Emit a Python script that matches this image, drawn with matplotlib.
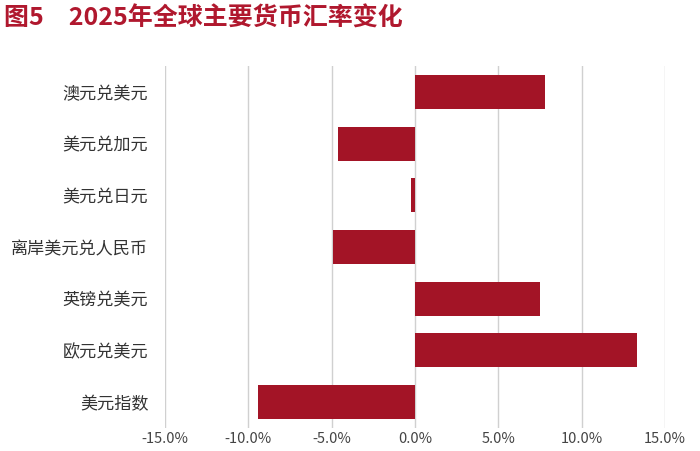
import matplotlib
matplotlib.use("Agg")
import matplotlib.pyplot as plt
from matplotlib.ticker import FuncFormatter

plt.rcParams['font.family'] = ['Noto Sans CJK SC', 'DejaVu Sans']

categories = ["澳元兑美元", "美元兑加元", "美元兑日元", "离岸美元兑人民币", "英镑兑美元", "欧元兑美元", "美元指数"]
values = [7.8, -4.6, -0.25, -4.9, 7.5, 13.3, -9.4]
xticks = [-15, -10, -5, 0, 5, 10, 15]

fig = plt.figure(figsize=(7.0, 4.51), dpi=100)
ax = fig.add_axes([165/700, 1-428/451, 500/700, (428-66)/451])
ypos = list(range(len(categories)))
ax.barh(ypos, values, height=0.66, color="#a31426", zorder=3)
ax.set_ylim(len(categories)-0.5, -0.5)
ax.set_yticks(ypos)
ax.set_yticklabels(categories, fontsize=12.3, color="#333333")
ax.set_xlim(-15, 15)
ax.set_xticks(xticks)
ax.xaxis.set_major_formatter(FuncFormatter(lambda v, p: f"{v:.1f}%"))
ax.tick_params(axis='x', labelsize=10.5, colors="#444444", length=0, pad=3)
ax.tick_params(axis='y', length=0, pad=12)
ax.grid(axis='x', color="#d0d0d0", linewidth=1, zorder=0)
for s in ax.spines.values():
    s.set_visible(False)
fig.text(0.006, 0.985, "图5　2025年全球主要货币汇率变化", fontsize=18, fontweight='bold',
         color="#b0182e", va='top', ha='left')
fig.savefig("out.png", dpi=100)
